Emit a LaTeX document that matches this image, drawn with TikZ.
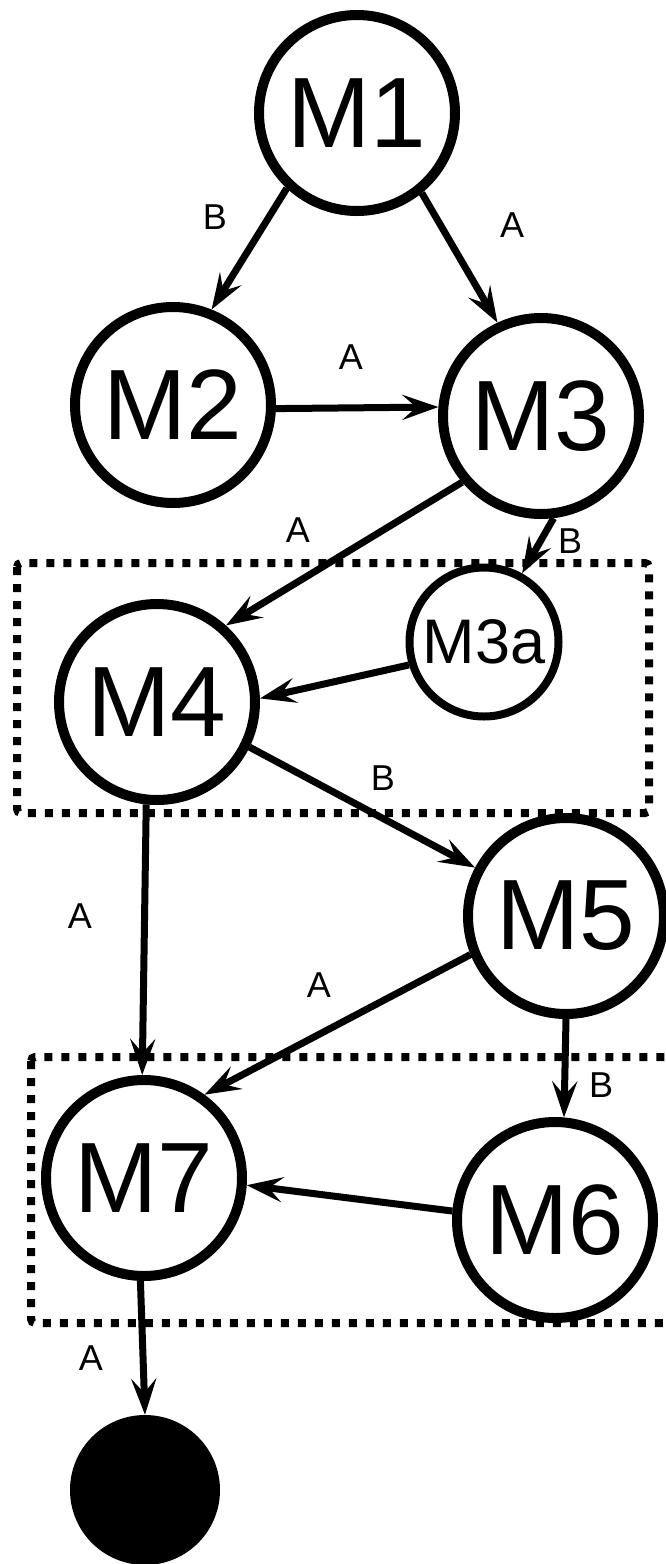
\documentclass[tikz,border=0pt]{standalone}
\usepackage{fontspec}
\setmainfont{Liberation Sans}
\usetikzlibrary{arrows.meta}

\begin{document}
\begin{tikzpicture}[x=1pt, y=-1pt,
        mstate/.style={draw, fill=white, circle, line width=10pt, minimum size=196pt,
            inner sep=0pt, font=\fontsize{100}{100}\selectfont},
        trans/.style={-{Stealth[length=36pt, width=25pt, inset=14pt]}, line width=7pt},
        tlabel/.style={font=\fontsize{36}{36}\selectfont},
        groupbox/.style={line width=8pt, dash pattern=on 8pt off 9pt, rounded corners=4pt}]
        \useasboundingbox (0,0) rectangle (665,1564);
        % groups
        \draw[groupbox] (17,563) rectangle (649,813);
        \draw[groupbox] (31,1057) rectangle (690,1323);
        % states
        \node[mstate] (M1) at (357,113) {M1};
        \node[mstate] (M2) at (173,405) {M2};
        \node[mstate] (M3) at (541,416) {M3};
        \node[mstate, line width=8pt, minimum size=149pt,
            font=\fontsize{63}{63}\selectfont] (M3a) at (484,642) {M3a};
        \node[mstate] (M4) at (157,702) {M4};
        \node[mstate] (M5) at (566,916) {M5};
        \node[mstate] (M6) at (555,1220) {M6};
        \node[mstate] (M7) at (144,1178) {M7};
        \node[circle, fill=black, minimum size=150pt, inner sep=0pt] (End) at (145,1490) {};
        % transitions
        \draw[trans] (M1.227) -- (M2.68);
        \draw[trans] (M1.309) -- (M3.115);
        \draw[trans] (M2.-2) -- (M3.175);
        \draw[trans] (M3.220) -- (M4.48);
        \draw[trans] (M3.277) -- (M3a.61);
        \draw[trans] (M3a.197) -- (M4.2);
        \draw[trans] (M4.334) -- (M5.152);
        \draw[trans] (M4.264) -- (M7.91);
        \draw[trans] (M5.202) -- (M7.54);
        \draw[trans] (M5.270) -- (M6.85);
        \draw[trans] (M6.175) -- (M7.356);
        \draw[trans] (M7.268) -- (End.90);
        % labels
        \node[tlabel] (l12) at (215,217) {B};
        \node[tlabel] (l13) at (512,225) {A};
        \node[tlabel] (l23) at (351,357) {A};
        \node[tlabel] (l34) at (298,530) {A};
        \node[tlabel] (l33a) at (570,541) {B};
        \node[tlabel] (l45) at (383,778) {B};
        \node[tlabel] (l47) at (80,916) {A};
        \node[tlabel] (l57) at (319,985) {A};
        \node[tlabel] (l56) at (601,1085) {B};
        \node[tlabel] (l7e) at (91,1358) {A};
    \end{tikzpicture}
\end{document}
